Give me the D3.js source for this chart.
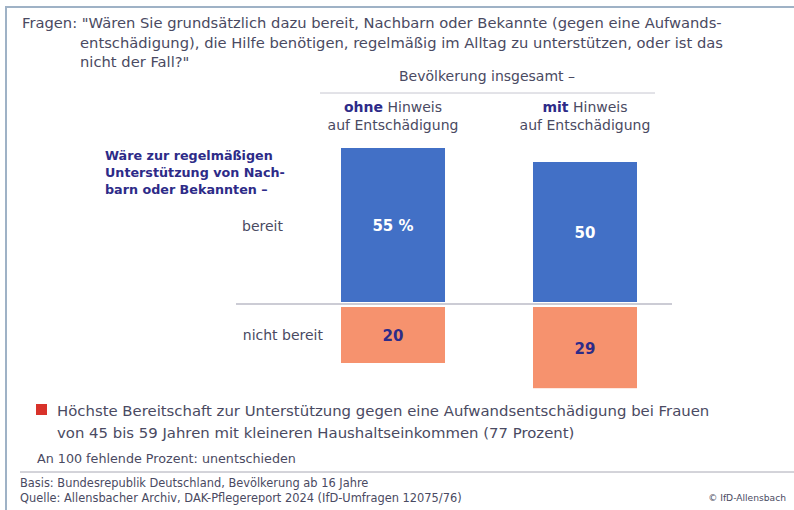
<!DOCTYPE html>
<html><head><meta charset="utf-8">
<script src="https://cdn.jsdelivr.net/npm/d3@7"></script>
<style>
html,body{margin:0;padding:0;background:#fff;}
svg{display:block;}
text{font-family:"DejaVu Sans","Open Sans",sans-serif;}
</style></head>
<body>
<script>
// ---- data ----
const groups = ["ohne", "mit"];
const groupSuffix = ["Hinweis", "Hinweis"];
const groupLine2 = ["auf Entschädigung", "auf Entschädigung"];
const bereit = [55, 50];
const nichtBereit = [20, 29];
const valueSuffix = [" %", ""];
const rowLabels = ["bereit", "nicht bereit"];
const titleLines = [
  "Fragen: \"Wären Sie grundsätzlich dazu bereit, Nachbarn oder Bekannte (gegen eine Aufwands-",
  "entschädigung), die Hilfe benötigen, regelmäßig im Alltag zu unterstützen, oder ist das",
  "nicht der Fall?\""
];
const headerLabel = "Bevölkerung insgesamt –";
const questionLines = ["Wäre zur regelmäßigen", "Unterstützung von Nach-", "barn oder Bekannten –"];
const noteLines = [
  "Höchste Bereitschaft zur Unterstützung gegen eine Aufwandsentschädigung bei Frauen",
  "von 45 bis 59 Jahren mit kleineren Haushaltseinkommen (77 Prozent)"
];
const missingNote = "An 100 fehlende Prozent: unentschieden";
const sourceLines = [
  "Basis: Bundesrepublik Deutschland, Bevölkerung ab 16 Jahre",
  "Quelle: Allensbacher Archiv, DAK-Pflegereport 2024 (IfD-Umfragen 12075/76)"
];
const copyright = "© IfD-Allensbach";

// ---- setup ----
const W = 794, H = 510;
const svg = d3.select("body").append("svg").attr("width", W).attr("height", H);
const textCol = "#4a4a62", navy = "#2d2b88", blue = "#4270c6", salmon = "#f6926e";

function fitSize(sel, target, base) {
  sel.style("font-size", base + "px");
  const w = sel.node().getComputedTextLength();
  return base * target / w;
}

// frame
svg.append("line").attr("x1", 6).attr("x2", W).attr("y1", 7).attr("y2", 7)
  .attr("stroke", "#9fb2c6").attr("stroke-width", 2);
svg.append("line").attr("x1", 6).attr("x2", 6).attr("y1", 6).attr("y2", H)
  .attr("stroke", "#9fb2c6").attr("stroke-width", 2);

// title
const tY = [28, 48, 67], tX = [22, 80, 80];
const t0 = svg.append("text").attr("x", tX[0]).attr("y", tY[0]).attr("fill", textCol).text(titleLines[0]);
const tSize = fitSize(t0, 700, 14);
svg.selectAll(".title").data(titleLines).join("text")
  .attr("x", (d, i) => tX[i]).attr("y", (d, i) => tY[i])
  .attr("fill", textCol).style("font-size", tSize + "px").text(d => d);
t0.remove();

// scales
const x = d3.scaleBand().domain(groups).range([297, 681]).paddingInner(0.4583).paddingOuter(0.2292);
const yUp = d3.scaleLinear().domain([0, 100]).range([302, 22]);
const yDown = d3.scaleLinear().domain([0, 100]).range([307, 587]);

// header
svg.append("text").attr("x", 487).attr("y", 81).attr("text-anchor", "middle")
  .attr("fill", textCol).style("font-size", "14px").text(headerLabel);
svg.append("line").attr("x1", 320).attr("x2", 655).attr("y1", 93).attr("y2", 93)
  .attr("stroke", "#c6c6d0").attr("stroke-width", 1);

const gh = svg.selectAll(".gh").data(groups).join("text")
  .attr("text-anchor", "middle").attr("y", 112).style("font-size", "14px")
  .attr("x", d => x(d) + x.bandwidth() / 2);
gh.append("tspan").attr("font-weight", "bold").attr("fill", navy).text(d => d);
gh.append("tspan").attr("fill", textCol).text((d, i) => " " + groupSuffix[i]);
svg.selectAll(".gh2").data(groups).join("text")
  .attr("text-anchor", "middle").attr("y", 130).style("font-size", "14px").attr("fill", textCol)
  .attr("x", d => x(d) + x.bandwidth() / 2).text((d, i) => groupLine2[i]);

// question block
const q0 = svg.append("text").attr("font-weight", "bold").text(questionLines[1]);
const qSize = fitSize(q0, 180, 14);
q0.remove();
svg.selectAll(".q").data(questionLines).join("text")
  .attr("x", 105).attr("y", (d, i) => 160 + i * 17)
  .attr("font-weight", "bold").attr("fill", navy).style("font-size", qSize + "px").text(d => d);

// row labels
svg.append("text").attr("x", 283).attr("y", 231).attr("text-anchor", "end")
  .attr("fill", textCol).style("font-size", "14px").text(rowLabels[0]);
svg.append("text").attr("x", 323).attr("y", 340).attr("text-anchor", "end")
  .attr("fill", textCol).style("font-size", "14px").text(rowLabels[1]);

// bars
svg.selectAll(".bUp").data(groups).join("rect")
  .attr("x", d => x(d)).attr("width", x.bandwidth())
  .attr("y", (d, i) => yUp(bereit[i])).attr("height", (d, i) => yUp(0) - yUp(bereit[i]))
  .attr("fill", blue);
svg.selectAll(".bDn").data(groups).join("rect")
  .attr("x", d => x(d)).attr("width", x.bandwidth())
  .attr("y", yDown(0)).attr("height", (d, i) => yDown(nichtBereit[i]) - yDown(0))
  .attr("fill", salmon);

// baseline
svg.append("line").attr("x1", 236).attr("x2", 672).attr("y1", 304).attr("y2", 304)
  .attr("stroke", "#9a9aab").attr("stroke-width", 1.2);

// value labels
svg.selectAll(".vUp").data(groups).join("text")
  .attr("x", d => x(d) + x.bandwidth() / 2)
  .attr("y", (d, i) => (yUp(bereit[i]) + yUp(0)) / 2 + 6)
  .attr("text-anchor", "middle").attr("font-weight", "bold").attr("fill", "#fff")
  .style("font-size", "15px").text((d, i) => bereit[i] + valueSuffix[i]);
svg.selectAll(".vDn").data(groups).join("text")
  .attr("x", d => x(d) + x.bandwidth() / 2)
  .attr("y", (d, i) => (yDown(nichtBereit[i]) + yDown(0)) / 2 + 6)
  .attr("text-anchor", "middle").attr("font-weight", "bold").attr("fill", navy)
  .style("font-size", "15px").text((d, i) => nichtBereit[i]);

// note
svg.append("rect").attr("x", 36).attr("y", 404).attr("width", 11).attr("height", 11).attr("fill", "#d8322a");
const n0 = svg.append("text").text(noteLines[0]);
const nSize = fitSize(n0, 653, 14);
n0.remove();
svg.selectAll(".note").data(noteLines).join("text")
  .attr("x", 57).attr("y", (d, i) => 416 + i * 22)
  .attr("fill", textCol).style("font-size", nSize + "px").text(d => d);

const m0 = svg.append("text").attr("x", 37).attr("y", 463).attr("fill", textCol).text(missingNote);
m0.style("font-size", fitSize(m0, 259, 12) + "px");

// separator
svg.append("line").attr("x1", 20).attr("x2", W).attr("y1", 472).attr("y2", 472)
  .attr("stroke", "#a8a8b4").attr("stroke-width", 1);

// source
const s0 = svg.append("text").text(sourceLines[1]);
const sSize = fitSize(s0, 442, 11);
s0.remove();
svg.selectAll(".src").data(sourceLines).join("text")
  .attr("x", 20).attr("y", (d, i) => 487 + i * 15)
  .attr("fill", textCol).style("font-size", sSize + "px").text(d => d);

const c0 = svg.append("text").attr("x", 786).attr("y", 501).attr("text-anchor", "end")
  .attr("fill", textCol).text(copyright);
c0.style("font-size", fitSize(c0, 78, 10) + "px");
</script>
</body></html>
